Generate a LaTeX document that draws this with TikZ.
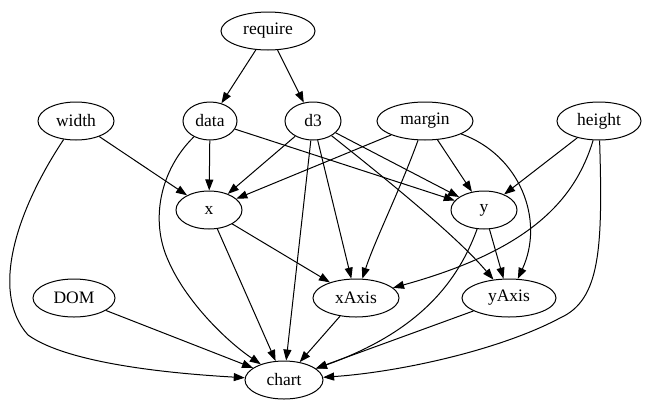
\documentclass[tikz,border=0pt]{standalone}
\usepackage{fontspec}
\setmainfont{Liberation Serif}
\usetikzlibrary{shapes.geometric,arrows.meta}
\begin{document}
\begin{tikzpicture}[x=1pt,y=-1pt,
  nd/.style={draw,ellipse,inner sep=0pt,minimum height=38pt,font=\fontsize{17.5}{19}\selectfont,line width=1pt},
  ed/.style={-{Triangle[length=11pt,width=8pt]},line width=1pt}]
\useasboundingbox (0,0) rectangle (650,418);
\node[nd,minimum width=94pt] (require) at (268,31) {require};
\node[nd,minimum width=76pt] (width) at (76,121) {width};
\node[nd,minimum width=54pt] (data) at (210,121) {data};
\node[nd,minimum width=56pt] (d3) at (313,121) {d3};
\node[nd,minimum width=96pt] (margin) at (425,121) {margin};
\node[nd,minimum width=84pt] (height) at (599,121) {height};
\node[nd,minimum width=66pt] (x) at (209,210) {x};
\node[nd,minimum width=66pt] (y) at (484,210) {y};
\node[nd,minimum width=82pt] (DOM) at (74,298) {DOM};
\node[nd,minimum width=86pt] (xAxis) at (356,298) {xAxis};
\node[nd,minimum width=94pt] (yAxis) at (509,298) {yAxis};
\node[nd,minimum width=78pt] (chart) at (284,380) {chart};

\draw[ed] (require) -- (data);
\draw[ed] (require) -- (d3);
\draw[ed] (width) -- (x);
\draw[ed] (width) .. controls (20,205) and (-12,290) .. (28,335) .. controls (70,365) and (180,374) .. (chart);
\draw[ed] (data) -- (x);
\draw[ed] (data) -- (y);
\draw[ed] (data) .. controls (160,170) and (150,220) .. (168,260) .. controls (185,300) and (225,340) .. (chart);
\draw[ed] (d3) -- (x);
\draw[ed] (d3) -- (y);
\draw[ed] (d3) -- (xAxis);
\draw[ed] (d3) -- (chart);
\draw[ed] (d3) .. controls (400,190) and (460,240) .. (yAxis);
\draw[ed] (margin) -- (x);
\draw[ed] (margin) -- (y);
\draw[ed] (margin) .. controls (400,190) and (375,240) .. (xAxis);
\draw[ed] (margin) .. controls (520,155) and (545,220) .. (yAxis);
\draw[ed] (height) -- (y);
\draw[ed] (height) .. controls (575,200) and (530,250) .. (xAxis);
\draw[ed] (height) .. controls (603,250) and (600,300) .. (560,318) .. controls (500,350) and (400,372) .. (chart);
\draw[ed] (x) -- (xAxis);
\draw[ed] (x) -- (chart);
\draw[ed] (y) -- (yAxis);
\draw[ed] (y) .. controls (455,290) and (410,335) .. (chart);
\draw[ed] (DOM) -- (chart);
\draw[ed] (xAxis) -- (chart);
\draw[ed] (yAxis) -- (chart);
\end{tikzpicture}
\end{document}
